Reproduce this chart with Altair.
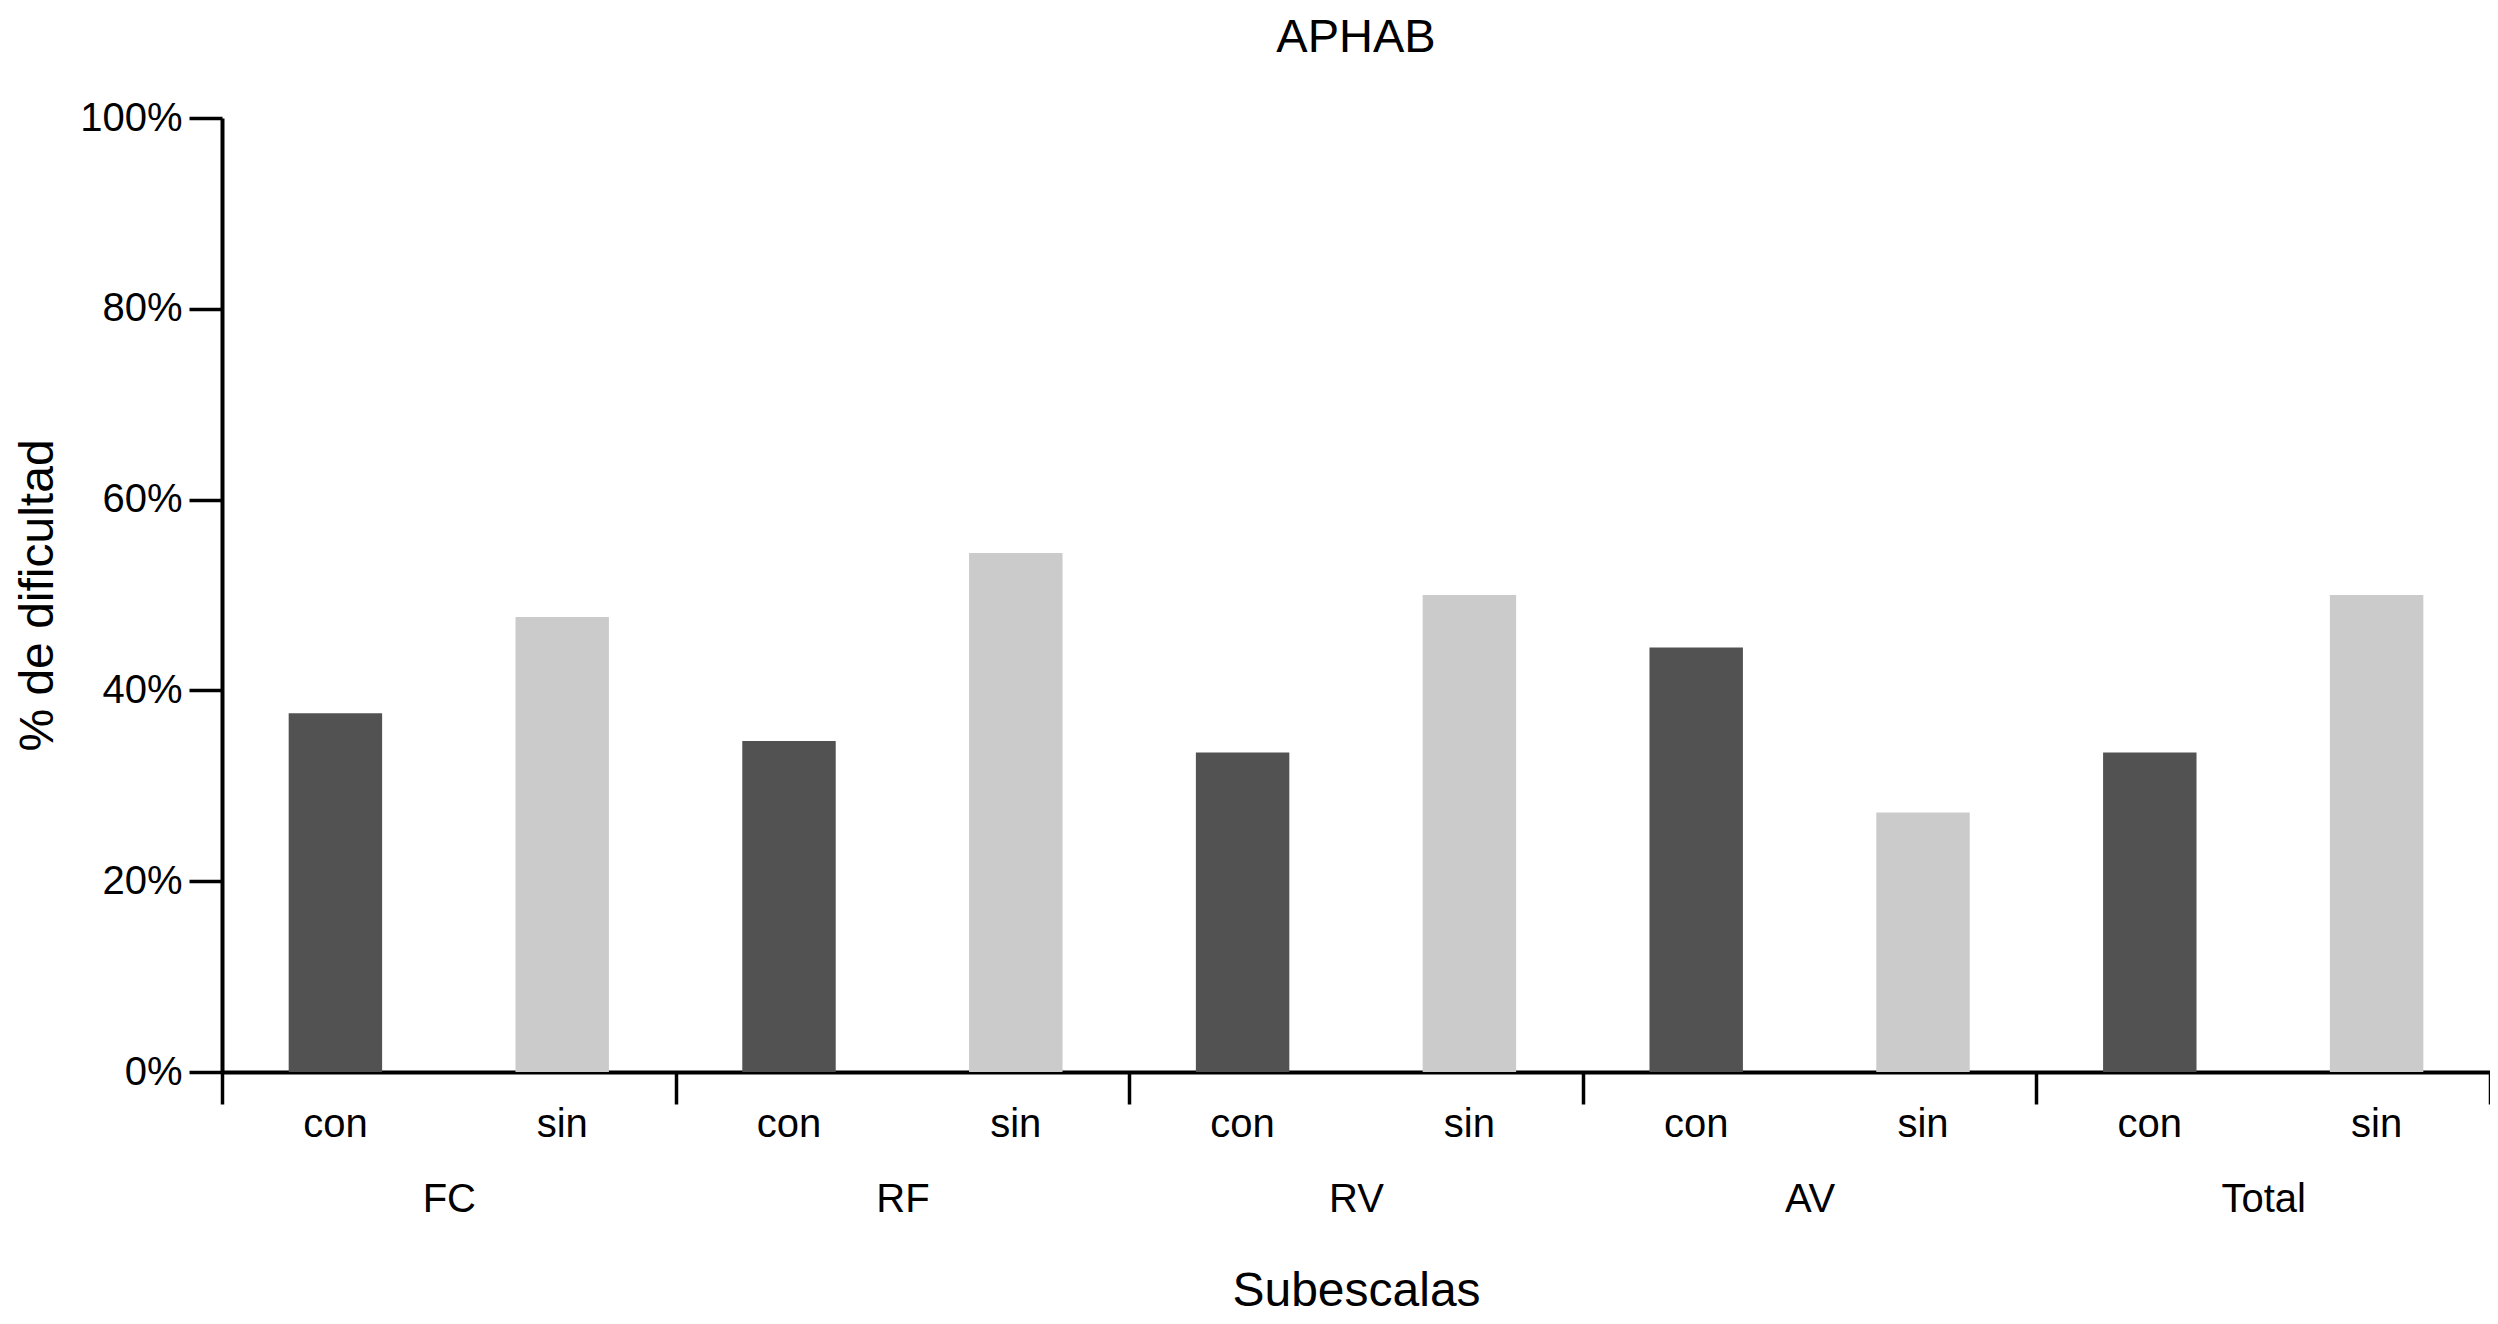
import altair as alt
import pandas as pd

# Data
grupos = ["FC", "RF", "RV", "AV", "Total"]
condiciones = ["con", "sin"]
valores_con = [37.6, 34.7, 33.5, 44.5, 33.5]
valores_sin = [47.7, 54.4, 50.0, 27.2, 50.0]
y_ticks = [0, 20, 40, 60, 80, 100]

rows = []
for g, c, s in zip(grupos, valores_con, valores_sin):
    rows.append({"grupo": g, "cond": "con", "valor": c})
    rows.append({"grupo": g, "cond": "sin", "valor": s})
df = pd.DataFrame(rows)

FONT = "Liberation Sans"
W, H = 2268, 954

x_axis = alt.Axis(
    title="Subescalas",
    titleFontSize=48,
    titleFont=FONT,
    titleFontWeight="normal",
    titleColor="black",
    titleBaseline="alphabetic",
    titleY=233,
    labelFontSize=40,
    labelFont=FONT,
    labelColor="black",
    labelBaseline="alphabetic",
    labelPadding=107,
    labelAngle=0,
    tickBand="extent",
    tickSize=32,
    tickWidth=3.5,
    tickColor="black",
    domainWidth=4,
    domainColor="black",
    grid=False,
)

x_enc = alt.X("grupo:N", sort=grupos,
              scale=alt.Scale(paddingInner=0, paddingOuter=0),
              axis=x_axis)
xo_enc = alt.XOffset("cond:N", sort=condiciones,
                     scale=alt.Scale(paddingInner=0.588, paddingOuter=0.294))

base = alt.Chart(df)

bars = base.mark_bar().encode(
    x=x_enc,
    xOffset=xo_enc,
    y=alt.Y(
        "valor:Q",
        scale=alt.Scale(domain=[0, 100], nice=False),
        axis=alt.Axis(
            values=y_ticks,
            labelExpr="datum.value + '%'",
            title="% de dificultad",
            titleFontSize=48,
            titleFont=FONT,
            titleFontWeight="normal",
            titleColor="black",
            titleAngle=270,
            titleBaseline="alphabetic",
            titleX=-170,
            labelFontSize=40,
            labelFont=FONT,
            labelColor="black",
            labelPadding=7,
            tickSize=33,
            tickWidth=3.5,
            tickColor="black",
            domainWidth=4,
            domainColor="black",
            grid=False,
        ),
    ),
    color=alt.Color("cond:N",
                    scale=alt.Scale(domain=condiciones, range=["#525252", "#cbcbcb"]),
                    legend=None),
)

labels = base.mark_text(fontSize=40, font=FONT, color="black", baseline="alphabetic").encode(
    x=x_enc,
    xOffset=xo_enc,
    y=alt.value(1018.5),
    text="cond:N",
)

chart = alt.layer(bars, labels).properties(
    width=W,
    height=H,
    title=alt.TitleParams(
        "APHAB",
        fontSize=47,
        font=FONT,
        fontWeight="normal",
        color="black",
        anchor="middle",
        baseline="alphabetic",
        frame="group",
        offset=-1,
    ),
    padding={"left": 214, "top": 110, "right": 0, "bottom": 243},
    autosize=alt.AutoSizeParams(type="none"),
).configure_view(stroke=None)

chart.save("out.html", embed_options={"renderer": "svg", "actions": False})
